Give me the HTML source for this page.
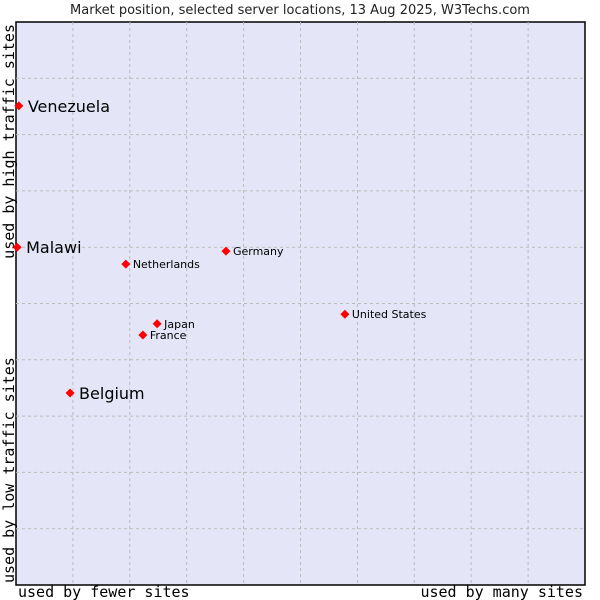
<!DOCTYPE html>
<html><head><meta charset="utf-8"><style>
body{margin:0;background:#fff;}
svg{display:block;}
</style></head><body>
<svg id="c" width="600" height="600" xmlns="http://www.w3.org/2000/svg">
<rect x="0" y="0" width="600" height="600" fill="#fff"/>
<text x="300" y="14" text-anchor="middle" font-family="DejaVu Sans, sans-serif" font-size="13" fill="#222">Market position, selected server locations, 13 Aug 2025, W3Techs.com</text>
<rect x="16" y="22" width="569" height="563" fill="#e4e6f8" stroke="#000" stroke-width="1.5"/>
<g id="grid"></g>
<text x="18" y="597" font-family="DejaVu Sans Mono, monospace" font-size="15" fill="#000">used by fewer sites</text>
<text x="583" y="597" text-anchor="end" font-family="DejaVu Sans Mono, monospace" font-size="15" fill="#000">used by many sites</text>
<text transform="translate(14,583) rotate(-90)" font-family="DejaVu Sans Mono, monospace" font-size="15" fill="#000">used by low traffic sites</text>
<text transform="translate(14,24) rotate(-90)" text-anchor="end" font-family="DejaVu Sans Mono, monospace" font-size="15" fill="#000">used by high traffic sites</text>
<g id="pts"></g>
</svg>
<script>
const names=["Venezuela","Malawi","Netherlands","Germany","United States","Japan","France","Belgium"];
const xs=[0.5,0.2,19.3,36.9,57.8,24.8,22.3,9.5];
const ys=[85.1,60.0,57.0,59.3,48.1,46.4,44.4,34.1];
const big=[true,true,false,false,false,false,false,true];
const L=16,R=585,T=22,B=585;
const sx=v=>L+v/100*(R-L), sy=v=>B-v/100*(B-T);
const NS="http://www.w3.org/2000/svg";
const g=document.getElementById('grid');
for(let i=1;i<10;i++){
  let l=document.createElementNS(NS,'line');
  
  
  let x=sx(i*10);l.setAttribute('x1',x);l.setAttribute('x2',x);l.setAttribute('y1',T);l.setAttribute('y2',B);
  l.setAttribute('stroke','#bbb');l.setAttribute('stroke-dasharray','3,3');g.appendChild(l);
  let h=document.createElementNS(NS,'line');
  
  
  let y=sy(i*10);h.setAttribute('x1',L);h.setAttribute('x2',R);h.setAttribute('y1',y);h.setAttribute('y2',y);
  h.setAttribute('stroke','#bbb');h.setAttribute('stroke-dasharray','3,3');g.appendChild(h);
}
const p=document.getElementById('pts');
names.forEach((n,i)=>{
  const x=sx(xs[i]),y=sy(ys[i]);
  const d=document.createElementNS(NS,'polygon');
  
  
  d.setAttribute('points',`${x},${y-4.5} ${x+4.5},${y} ${x},${y+4.5} ${x-4.5},${y}`);
  d.setAttribute('fill','#f00');p.appendChild(d);
  const t=document.createElementNS(NS,'text');
  
  
  t.setAttribute('x',x+(big[i]?9:7));t.setAttribute('y',y+(big[i]?6:4));
  t.setAttribute('font-family','DejaVu Sans, sans-serif');t.setAttribute('font-size',big[i]?16:11);
  t.setAttribute('fill','#000');t.textContent=n;p.appendChild(t);
});
</script>
</body></html>
